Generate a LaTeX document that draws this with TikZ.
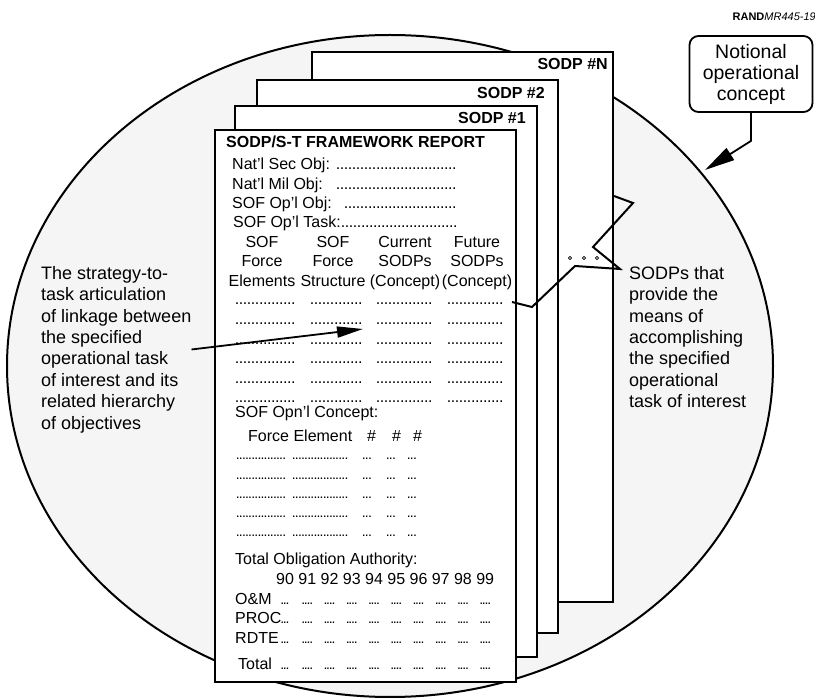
\documentclass[tikz,border=0pt]{standalone}
\usepackage{fontspec}
\setmainfont{Liberation Sans}
\usetikzlibrary{arrows.meta}

\newcommand\repfont{\fontsize{16}{19.5}\selectfont}
\newcommand\notefont{\fontsize{18}{21.4}\selectfont}
\newcommand\dotfil{\leaders\hbox to 4pt{\hss.\hss}\hfill}
\newcommand\dotrow[1]{\hbox to #1pt{\dotfil}}
\newcommand\tinydots[1]{\hbox to #1pt{\fontsize{14}{16}\selectfont\leaders\hbox to 3.1pt{\hss.\hss}\hfill}}
\newcommand\dotgroup[1]{\hbox to #1pt{\fontsize{14}{16}\selectfont\leaders\hbox to 2.7pt{\hss.\hss}\hfill}}
\newcommand\yeardots{\hbox to 22.24pt{\hss\dotgroup{8.5}\hss}\hbox to 200.16pt{\leaders\hbox to 22.24pt{\hss\dotgroup{11}\hss}\hfill}}

\tikzset{
  page/.style={draw, fill=white, line width=2.2pt},
  rep/.style={inner sep=0pt, anchor=base west, font=\repfont},
  tag/.style={inner sep=0pt, anchor=base east, font=\repfont\bfseries},
  note/.style={inner sep=0pt, anchor=north west, align=left, font=\notefont},
  pointer/.style={line width=1.8pt, -{Triangle[length=26pt,width=11pt]}},
}

\begin{document}
\begin{tikzpicture}[x=1pt,y=-1pt]
\useasboundingbox (0,0) rectangle (815,700);

% shaded oval
\draw[line width=2pt, fill=black!4] (390,366) ellipse [x radius=383pt, y radius=331pt];

% stacked pages, back to front
\draw[page] (312,52) rectangle (613,602);
\node[tag] (tagN) at (608,70) {SODP \#N};
\draw[page] (257,80) rectangle (558,633);
\node[tag] (tag2) at (545,99) {SODP \#2};
\draw[page] (235,106) rectangle (537,657);
\node[tag] (tag1) at (526,124) {SODP \#1};
\draw[page] (215,130) rectangle (516,682);

% report heading
\node[rep, font=\repfont\bfseries] (title) at (226,148) {SODP/S-T FRAMEWORK REPORT};
\node[rep] (secobj) at (232,170) {\hbox to 226pt{Nat'l Sec Obj: \dotfil}};
\node[rep] (milobj) at (232,189.5) {\hbox to 226pt{Nat'l Mil Obj: \ \dotfil}};
\node[rep] (opobj) at (232,208.5) {\hbox to 226pt{SOF Op'l Obj: \ \dotfil}};
\node[rep] (optask) at (233,228) {\hbox to 225pt{SOF Op'l Task:\dotfil}};

% table columns
\foreach \x/\a/\b/\c [count=\i] in {262/SOF/Force/Elements, 333/SOF/Force/Structure,
    405/Current/SODPs/(Concept), 477/Future/SODPs/(Concept)}
  \node[inner sep=0pt, anchor=north, align=center, font=\repfont] (head\i) at (\x,236) {\a\\\b\\\c};
\foreach \r in {0,...,5}
  \foreach \x/\w [count=\c] in {235/60, 310/52, 376/56, 447/56}
    \node[rep] (cell\r\c) at (\x,{305+19.6*\r}) {\dotrow{\w}};

% concept
\node[rep] (opncon) at (235,418) {SOF Opn'l Concept:};
\node[rep] (forcel) at (248,442) {Force Element\hspace{15pt}\#\hspace{16pt}\#\hspace{12pt}\#};
\foreach \r in {0,...,4}
  \foreach \x/\w [count=\c] in {236/51, 292/56, 362/10, 386/10, 407/10}
    \node[rep] (fe\r\c) at (\x,{460+19.2*\r}) {\tinydots{\w}};

% obligation authority
\node[rep] (toa) at (235,565) {Total Obligation Authority:};
\node[rep] (years) at (276,585) {90 91 92 93 94 95 96 97 98 99};
\foreach \y/\lab/\lx [count=\i] in {605/O\&M/235, 624/PROC/235, 643.3/RDTE/235, 670/Total/238} {
  \node[rep] (fund\i) at (\lx,\y) {\lab};
  \node[rep] (fdots\i) at (273.8,\y) {\yeardots};
}

% side notes
\node[note] (strat) at (41,266) {The strategy-to-\\task articulation\\of linkage between\\the specified\\operational task\\of interest and its\\related hierarchy\\of objectives};
\node[note] (means) at (629,266) {SODPs that\\provide the\\means of\\accomplishing\\the specified\\operational\\task of interest};
\coordinate (into) at (363,329);
\draw[pointer] (strat.east) -- (into);

% zigzag to the pages
\coordinate (zfrom) at (512,302);
\coordinate (zto) at (614,196);
\draw[line width=2pt, line join=miter] (zfrom) -- (532,307) -- (575,266) -- (620,269) -- (593,247) -- (633,203) -- (zto);
\foreach \x in {570,584,597}
  \draw[line width=0.8pt] (\x,258) circle (1.6pt);

% notional concept callout
\node[draw, line width=1.8pt, rounded corners=9pt, minimum width=123pt, minimum height=76pt,
  align=center, inner sep=0pt, font=\fontsize{19.5}{21}\selectfont] (notion) at (751,74) {Notional\\operational\\concept};
\coordinate (rim) at (705,170);
\draw[line width=1.8pt, -{Triangle[length=30pt,width=14pt]}] (notion.south) -- ++(0,28) -- (rim);

\node[inner sep=0pt, anchor=base east, font=\fontsize{11}{13}\selectfont] (rand) at (816,21) {\textbf{RAND}\textit{MR445-19}};
\end{tikzpicture}
\end{document}
